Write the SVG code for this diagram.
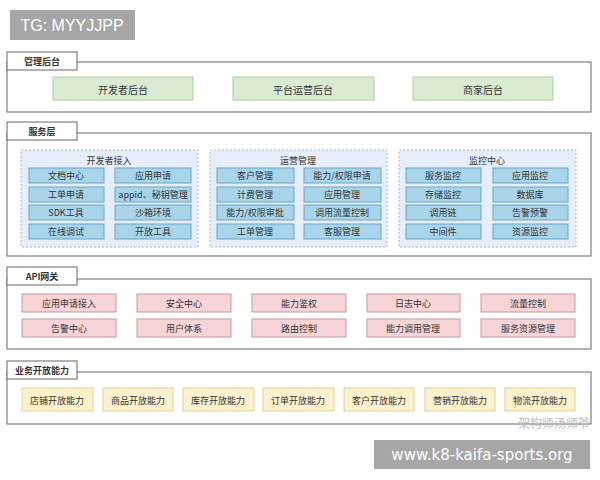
<svg xmlns="http://www.w3.org/2000/svg" width="600" height="480" viewBox="0 0 600 480">
<style>
text{font-family:"Noto Sans CJK SC","Liberation Sans",sans-serif;text-anchor:middle;dominant-baseline:central;fill:#333}
.frame{fill:#fff;stroke:#666;stroke-width:1}
.tab{fill:#fff;stroke:#666;stroke-width:1}
.tabt{font-size:9px;font-weight:bold}
.g{fill:#d9ecd2;stroke:#a9cf9b}
.grp{fill:#e6eefa;stroke:#a8b8d0;stroke-dasharray:2,2}
.b{fill:#a9d5ea;stroke:#6aa6c4}
.r{fill:#f7d4d6;stroke:#c99a9d}
.y{fill:#fbf1cc;stroke:#e0d29a}
.s{font-size:9px}
</style>
<rect width="600" height="480" fill="#fff"/>
<rect x="10" y="10" width="125" height="30" fill="#a6a6a6"/>
<text x="72" y="25" style="font-family:'Liberation Sans',sans-serif;font-size:16px;fill:#fff">TG: MYYJJPP</text>

<g id="mgmt">
<rect class="frame" x="7" y="62" width="584" height="50"/>
<rect class="tab" x="7" y="52" width="70" height="18"/><text class="tabt" x="42" y="61">管理后台</text>
<rect class="g" x="53" y="77" width="140" height="23"/><text x="123" y="89" style="font-size:10px">开发者后台</text>
<rect class="g" x="233" y="77" width="141" height="23"/><text x="303" y="89" style="font-size:10px">平台运营后台</text>
<rect class="g" x="413" y="77" width="140" height="23"/><text x="483" y="89" style="font-size:10px">商家后台</text>
</g>

<g id="service">
<rect class="frame" x="7" y="133" width="584" height="123"/>
<rect class="tab" x="7" y="122" width="70" height="18"/><text class="tabt" x="42" y="131">服务层</text>
<rect class="grp" x="21" y="150" width="177" height="97"/><text class="s" x="109" y="160">开发者接入</text>
<rect class="grp" x="210" y="150" width="177" height="97"/><text class="s" x="298" y="160">运营管理</text>
<rect class="grp" x="399" y="150" width="177" height="97"/><text class="s" x="487" y="160">监控中心</text>
<g class="b">
<rect x="29" y="168" width="75" height="15"/><rect x="115" y="168" width="76" height="15"/>
<rect x="29" y="187" width="75" height="15"/><rect x="115" y="187" width="76" height="15"/>
<rect x="29" y="205" width="75" height="15"/><rect x="115" y="205" width="76" height="15"/>
<rect x="29" y="224" width="75" height="15"/><rect x="115" y="224" width="76" height="15"/>
<rect x="217" y="168" width="77" height="15"/><rect x="304" y="168" width="77" height="15"/>
<rect x="217" y="187" width="77" height="15"/><rect x="304" y="187" width="77" height="15"/>
<rect x="217" y="205" width="77" height="15"/><rect x="304" y="205" width="77" height="15"/>
<rect x="217" y="224" width="77" height="15"/><rect x="304" y="224" width="77" height="15"/>
<rect x="406" y="168" width="75" height="15"/><rect x="493" y="168" width="75" height="15"/>
<rect x="406" y="187" width="75" height="15"/><rect x="493" y="187" width="75" height="15"/>
<rect x="406" y="205" width="75" height="15"/><rect x="493" y="205" width="75" height="15"/>
<rect x="406" y="224" width="75" height="15"/><rect x="493" y="224" width="75" height="15"/>
</g>
<g class="s">
<text class="s" x="66" y="175.5">文档中心</text><text class="s" x="153" y="175.5">应用申请</text>
<text class="s" x="66" y="194.5">工单申请</text><text class="s" x="153" y="194.5">appid、秘钥管理</text>
<text class="s" x="66" y="212.5">SDK工具</text><text class="s" x="153" y="212.5">沙箱环境</text>
<text class="s" x="66" y="231.5">在线调试</text><text class="s" x="153" y="231.5">开放工具</text>
<text class="s" x="255" y="175.5">客户管理</text><text class="s" x="342" y="175.5">能力/权限申请</text>
<text class="s" x="255" y="194.5">计费管理</text><text class="s" x="342" y="194.5">应用管理</text>
<text class="s" x="255" y="212.5">能力/权限审批</text><text class="s" x="342" y="212.5">调用流量控制</text>
<text class="s" x="255" y="231.5">工单管理</text><text class="s" x="342" y="231.5">客服管理</text>
<text class="s" x="443" y="175.5">服务监控</text><text class="s" x="530" y="175.5">应用监控</text>
<text class="s" x="443" y="194.5">存储监控</text><text class="s" x="530" y="194.5">数据库</text>
<text class="s" x="443" y="212.5">调用链</text><text class="s" x="530" y="212.5">告警预警</text>
<text class="s" x="443" y="231.5">中间件</text><text class="s" x="530" y="231.5">资源监控</text>
</g>
</g>

<g id="api">
<rect class="frame" x="7" y="279" width="584" height="70"/>
<rect class="tab" x="7" y="267" width="70" height="18"/><text class="tabt" x="42" y="276">API网关</text>
<g class="r">
<rect x="22" y="294" width="94" height="18"/><rect x="137" y="294" width="94" height="18"/><rect x="252" y="294" width="94" height="18"/><rect x="367" y="294" width="93" height="18"/><rect x="481" y="294" width="94" height="18"/>
<rect x="22" y="319" width="94" height="18"/><rect x="137" y="319" width="94" height="18"/><rect x="252" y="319" width="94" height="18"/><rect x="367" y="319" width="93" height="18"/><rect x="481" y="319" width="94" height="18"/>
</g>
<text class="s" x="69" y="303">应用申请接入</text><text class="s" x="184" y="303">安全中心</text><text class="s" x="299" y="303">能力鉴权</text><text class="s" x="413" y="303">日志中心</text><text class="s" x="528" y="303">流量控制</text>
<text class="s" x="69" y="328">告警中心</text><text class="s" x="184" y="328">用户体系</text><text class="s" x="299" y="328">路由控制</text><text class="s" x="413" y="328">能力调用管理</text><text class="s" x="528" y="328">服务资源管理</text>
</g>

<g id="biz">
<rect class="frame" x="7" y="372" width="584" height="52"/>
<rect class="tab" x="7" y="361" width="70" height="18"/><text class="tabt" x="42" y="370">业务开放能力</text>
<g class="y">
<rect x="22" y="388" width="71" height="23"/><rect x="103" y="388" width="70" height="23"/><rect x="183" y="388" width="71" height="23"/><rect x="263" y="388" width="71" height="23"/><rect x="344" y="388" width="70" height="23"/><rect x="425" y="388" width="70" height="23"/><rect x="505" y="388" width="70" height="23"/>
</g>
<text class="s" x="57" y="400">店铺开放能力</text><text class="s" x="138" y="400">商品开放能力</text><text class="s" x="218" y="400">库存开放能力</text><text class="s" x="298" y="400">订单开放能力</text><text class="s" x="379" y="400">客户开放能力</text><text class="s" x="460" y="400">营销开放能力</text><text class="s" x="540" y="400">物流开放能力</text>
</g>

<text x="554" y="422" style="font-size:12px;fill:#bbb">架构师汤师爷</text>
<rect x="374" y="440" width="216" height="29" fill="#a6a6a6"/>
<text x="482" y="455" style="font-family:'DejaVu Sans',sans-serif;font-size:15px;fill:#fff">www.k8-kaifa-sports.org</text>
</svg>
